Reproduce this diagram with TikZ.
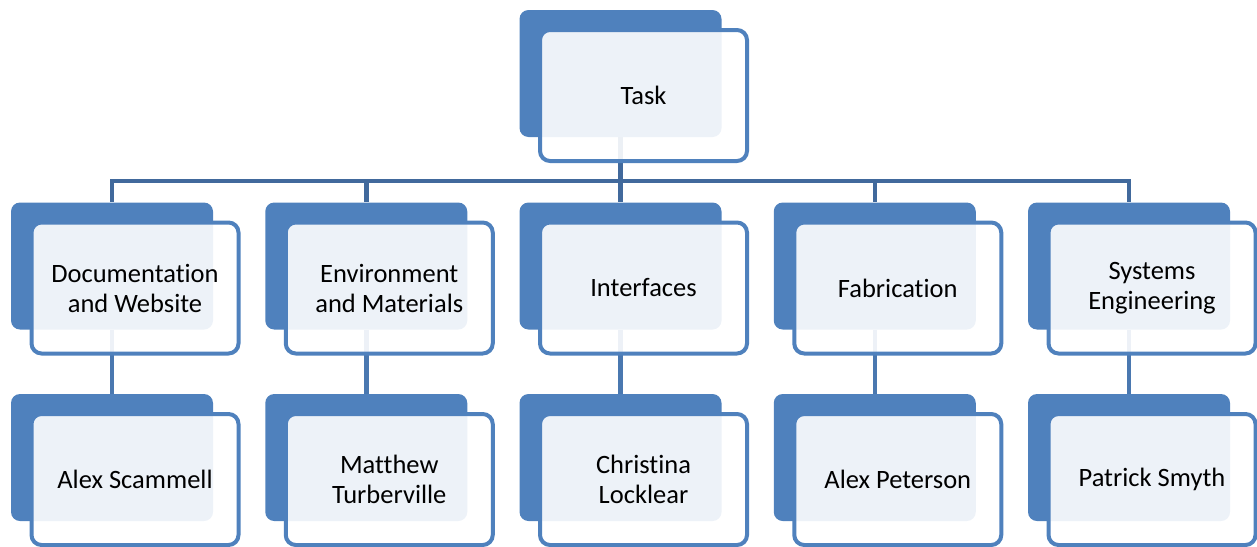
\documentclass[tikz,border=0pt]{standalone}
\usepackage{fontspec}
\setmainfont[Ligatures=NoCommon]{Carlito}
\usetikzlibrary{backgrounds}
\definecolor{boxblue}{HTML}{4F81BD}
\definecolor{linkblue}{HTML}{4A78B0}
\definecolor{linkdark}{HTML}{41699C}
\tikzset{back/.style = {fill=boxblue, rounded corners=9, inner sep=0, minimum width=202, minimum height=127}}
\tikzset{front/.style = {draw=boxblue, line width=4, fill=white, fill opacity=0.9, text opacity=1, rounded corners=10, inner sep=0, minimum width=207, minimum height=131, align=center, font=\fontsize{26.5}{30}\selectfont}}
\tikzset{link/.style = {draw=linkblue, line width=4.5}, bar/.style = {draw=linkdark, line width=4.5}}

\begin{document}
\begin{tikzpicture}[x=1pt, y=-1pt]
      \useasboundingbox (0,0) rectangle (1257,546);
      \node [back] (task-b) at (620.5,73.5) {};
      \node [front] (task) at ([shift={(23,22)}]task-b.center) {Task};
      \foreach \x/\n/\grp/\who in {112/doc/{Documentation\\and Website}/{Alex Scammell},
          366.25/env/{Environment\\and Materials}/{Matthew\\Turberville},
          620.5/intf/{Interfaces}/{Christina\\Locklear},
          874.75/fab/{Fabrication}/{Alex Peterson},
          1129/sys/{Systems\\Engineering}/{Patrick Smyth}} {
        \node [back] (\n-b) at (\x,266) {};
        \node [front] (\n) at ([shift={(23,22)}]\n-b.center) {\grp};
        \node [back] (\n-p-b) at (\x,457.5) {};
        \node [front] (\n-p) at ([shift={(23,22)}]\n-p-b.center) {\who};
      }
      \begin{scope}[on background layer]
        \coordinate (bar) at (620.5,181);
        \foreach \n in {doc,env,intf,fab,sys} {
          \draw [bar] (task-b.south) -- (task-b.south |- bar) -| (\n-b.north);
          \draw [link] (\n-b.south) -- (\n-p-b.north);
        }
      \end{scope}
    \end{tikzpicture}
\end{document}
